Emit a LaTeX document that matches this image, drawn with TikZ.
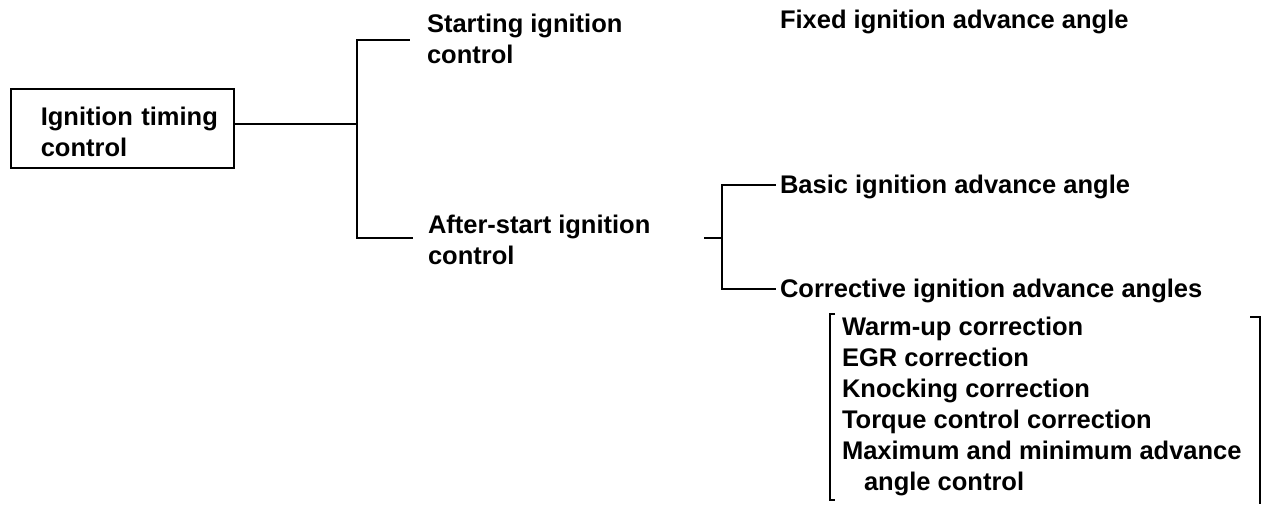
\documentclass[tikz,border=0pt]{standalone}
\usepackage{fontspec}
\setmainfont{Liberation Sans}
\begin{document}
\begin{tikzpicture}[x=1pt,y=-1pt,
  txt/.style={inner sep=0pt, outer sep=0pt, anchor=west, align=left,
    font=\fontsize{25.5}{31}\selectfont\bfseries},
  one/.style={txt, anchor=base west},
  ln/.style={line width=1.6pt, line cap=rect},
  frame/.style={draw, line width=1.6pt, anchor=north west, inner xsep=0pt, inner ysep=0pt,
    minimum height=79pt, text width=223pt, align=left,
    font=\fontsize{25.5}{31}\selectfont\bfseries}]
\useasboundingbox (0,0) rectangle (1266,504);

% root box
\node[frame] (box) at (10,88) {\rule{0pt}{25pt}\hspace*{30pt}Ignition timing\\\hspace*{30pt}control};

% first level
\node[txt] (start) at (427,39) {Starting ignition\\control};
\node[txt] (after) at (428,240) {After-start ignition\\control};
\node[one] (fixed) at (780,28) {Fixed ignition advance angle};

% second level
\node[one] (basic) at (780,193) {Basic ignition advance angle};
\node[one] (corr) at (780,297) {Corrective ignition advance angles};

% corrections list
\node[one] (warm) at (842,335) {Warm-up correction};
\node[one] (egr) at (842,366) {EGR correction};
\node[one] (knock) at (842,397) {Knocking correction};
\node[one] (torque) at (842,428) {Torque control correction};
\node[txt] (maxmin) at (842,468) {Maximum and minimum advance\\\hspace*{22pt}angle control};

% connectors, first tree
\coordinate (vtop) at (357,40);
\coordinate (vbot) at (357,238);
\coordinate (j1) at (357,124);
\draw[ln] (box.east |- j1) -- (j1);
\draw[ln] (vtop) -- (vbot);
\draw[ln, shorten >=18pt] (vtop) -- (vtop -| start.west);
\draw[ln, shorten >=16pt] (vbot) -- (vbot -| after.west);

% connectors, second tree
\coordinate (k1) at (705,238);
\coordinate (wtop) at (722,185);
\coordinate (wbot) at (722,289);
\draw[ln] (k1) -- (k1 -| wtop);
\draw[ln] (wtop) -- (wbot);
\draw[ln, shorten >=5pt] (wtop) -- (wtop -| basic.west);
\draw[ln, shorten >=5pt] (wbot) -- (wbot -| corr.west);

% brackets around the corrections
\draw[ln, line cap=butt] (835,314) -- (830,314) -- (830,500) -- (835,500);
\draw[ln, line cap=butt] (1250,317) -- (1260,317) -- (1260,504);
\end{tikzpicture}
\end{document}
